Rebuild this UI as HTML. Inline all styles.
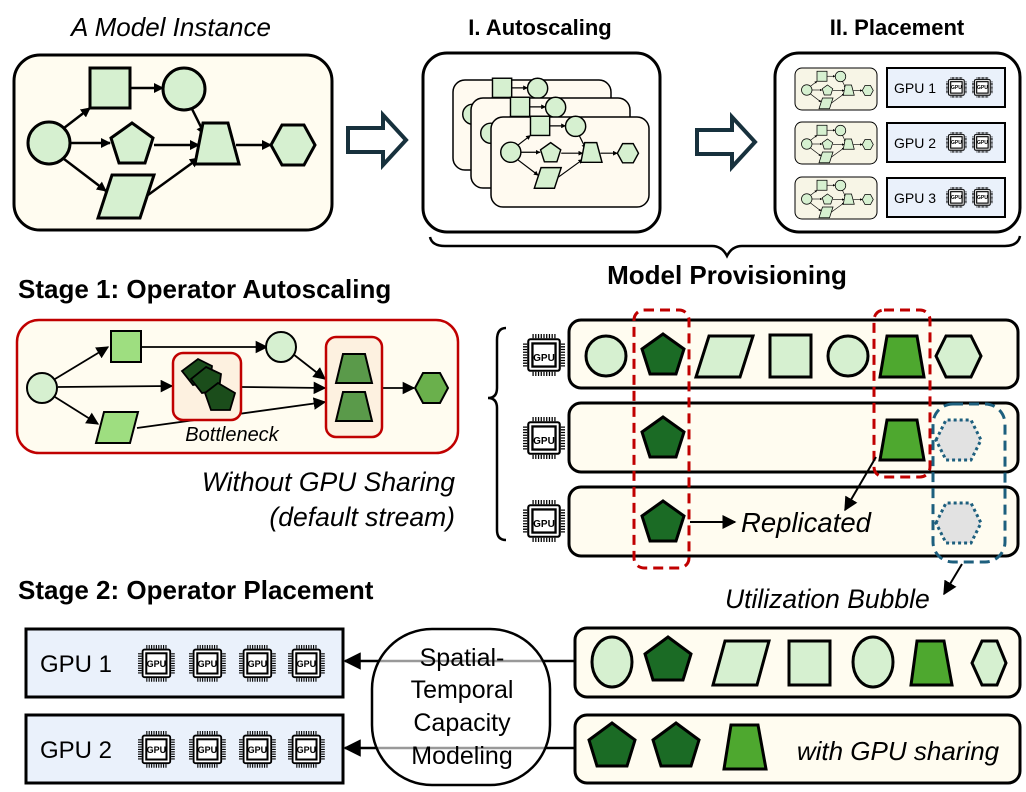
<!DOCTYPE html>
<html><head><meta charset="utf-8"><style>
html,body{margin:0;padding:0;background:#fff;}
svg{display:block;font-family:"Liberation Sans",sans-serif;}
.b{font-weight:bold;font-size:22px;}
.b2{font-weight:bold;font-size:26px;}
.i{font-style:italic;}
</style></head><body>
<svg width="1026" height="792" viewBox="0 0 1026 792" xmlns="http://www.w3.org/2000/svg">
<defs>
<marker id="ah" viewBox="0 0 10 10" refX="9" refY="5" markerWidth="4" markerHeight="4" orient="auto"><path d="M0,0 L10,5 L0,10 z" fill="#000"/></marker>
<marker id="ah2" viewBox="0 0 10 10" refX="9" refY="5" markerWidth="7" markerHeight="7" orient="auto"><path d="M0,0 L10,5 L0,10 z" fill="#000"/></marker>
<g id="graph" stroke="#000" stroke-width="3">
 <g fill="none" stroke-width="2.5" marker-end="url(#ah)">
  <line x1="50" y1="73" x2="76" y2="53"/>
  <line x1="116" y1="33" x2="149" y2="33"/>
  <line x1="56" y1="88" x2="96" y2="88"/>
  <line x1="50" y1="104" x2="92" y2="136"/>
  <line x1="140" y1="90" x2="185" y2="90"/>
  <line x1="178" y1="54" x2="191" y2="80"/>
  <line x1="134" y1="140" x2="185" y2="103"/>
  <line x1="222" y1="90" x2="257" y2="90"/>
 </g>
 <g fill="#d6f0d0">
  <circle cx="35" cy="88" r="21"/>
  <rect x="76" y="13" width="40" height="40"/>
  <circle cx="170" cy="34" r="21"/>
  <polygon points="118,68 139,83 131,108 105,108 97,83"/>
  <polygon points="98,120 140,120 126,163 84,163"/>
  <polygon points="189,68 214,68 225,109 181,109"/>
  <polygon points="257,90 268,70 290,70 301,90 290,110 268,110"/>
 </g>
</g>
<g id="chip">
 <g stroke="#000" stroke-width="4" stroke-dasharray="1.2 1.4">
  <line x1="9" y1="2" x2="31" y2="2"/><line x1="9" y1="38" x2="31" y2="38"/>
  <line x1="2" y1="9" x2="2" y2="31"/><line x1="38" y1="9" x2="38" y2="31"/>
 </g>
 <rect x="5" y="5" width="30" height="30" fill="#fff" stroke="#000" stroke-width="2" rx="2"/>
 <rect x="9" y="9" width="22" height="22" fill="#fff" stroke="#000" stroke-width="2.2"/>
</g>
<g id="arrowR"><path d="M0,13 L35,13 L35,0 L58,25 L35,50 L35,37 L0,37 z" fill="#fff" stroke="#17313d" stroke-width="4"/></g>
</defs>

<text x="171" y="36" text-anchor="middle" class="i" font-size="26">A Model Instance</text>
<text x="540" y="35" text-anchor="middle" class="b">I. Autoscaling</text>
<text x="897" y="35" text-anchor="middle" class="b">II. Placement</text>

<rect x="14" y="55" width="318" height="175" rx="26" fill="#fffcf0" stroke="#000" stroke-width="3"/>
<use href="#graph" transform="translate(14,55)"/>

<use href="#arrowR" transform="translate(348,115)"/>
<use href="#arrowR" transform="translate(697,117)"/>

<rect x="423" y="53" width="237" height="179" rx="24" fill="#fff" stroke="#000" stroke-width="3"/>
<rect x="453" y="80" width="158" height="90" rx="12" fill="#fffaf0" stroke="#000" stroke-width="1.5"/>
<use href="#graph" transform="translate(456,72) scale(0.48)"/>
<rect x="471" y="98" width="159" height="90" rx="12" fill="#fffaf0" stroke="#000" stroke-width="1.5"/>
<use href="#graph" transform="translate(474,91) scale(0.48)"/>
<rect x="491" y="117" width="158" height="90" rx="12" fill="#fffaf0" stroke="#000" stroke-width="1.5"/>
<use href="#graph" transform="translate(494,110) scale(0.48)"/>

<rect x="775" y="53" width="245" height="179" rx="24" fill="#fff" stroke="#000" stroke-width="3"/>
<g>
 <rect x="795" y="68" width="82" height="42" rx="7" fill="#f7f5e6" stroke="#000" stroke-width="1"/>
 <use href="#graph" transform="translate(798,68) scale(0.25)"/>
 <rect x="795" y="122" width="82" height="42" rx="7" fill="#f7f5e6" stroke="#000" stroke-width="1"/>
 <use href="#graph" transform="translate(798,122) scale(0.25)"/>
 <rect x="795" y="177" width="82" height="42" rx="7" fill="#f7f5e6" stroke="#000" stroke-width="1"/>
 <use href="#graph" transform="translate(798,177) scale(0.25)"/>
</g>
<g font-size="14">
 <rect x="887" y="68" width="118" height="39" fill="#eaf1fb" stroke="#000" stroke-width="2"/>
 <text x="894" y="93">GPU 1</text>
 <rect x="887" y="123" width="118" height="39" fill="#eaf1fb" stroke="#000" stroke-width="2"/>
 <text x="894" y="148">GPU 2</text>
 <rect x="887" y="178" width="118" height="39" fill="#eaf1fb" stroke="#000" stroke-width="2"/>
 <text x="894" y="203">GPU 3</text>
</g>
<g font-size="5" font-weight="bold" text-anchor="middle">
 <use href="#chip" transform="translate(946,77) scale(0.52)"/><text x="956.4" y="89">GPU</text>
 <use href="#chip" transform="translate(972,77) scale(0.52)"/><text x="982.4" y="89">GPU</text>
 <use href="#chip" transform="translate(946,132) scale(0.52)"/><text x="956.4" y="144">GPU</text>
 <use href="#chip" transform="translate(972,132) scale(0.52)"/><text x="982.4" y="144">GPU</text>
 <use href="#chip" transform="translate(946,187) scale(0.52)"/><text x="956.4" y="199">GPU</text>
 <use href="#chip" transform="translate(972,187) scale(0.52)"/><text x="982.4" y="199">GPU</text>
</g>

<path d="M430,237 Q432,246 445,246 L712,246 Q722,246 727,256 Q732,246 742,246 L1005,246 Q1018,246 1020,236" fill="none" stroke="#000" stroke-width="2.5"/>
<text x="727" y="284" text-anchor="middle" class="b2">Model Provisioning</text>

<text x="18" y="298" class="b2">Stage 1: Operator Autoscaling</text>
<rect x="17" y="320" width="441" height="133" rx="22" fill="#fffcf0" stroke="#c00000" stroke-width="2.5"/>
<g stroke="#000" stroke-width="1.8" fill="none" marker-end="url(#ah2)">
 <line x1="55" y1="379" x2="108" y2="347"/>
 <line x1="142" y1="347" x2="267" y2="347"/>
 <line x1="58" y1="387" x2="172" y2="386"/>
 <line x1="55" y1="397" x2="98" y2="424"/>
 <line x1="242" y1="387" x2="325" y2="388"/>
 <line x1="137" y1="428" x2="325" y2="402"/>
 <line x1="293" y1="354" x2="325" y2="379"/>
 <line x1="383" y1="388" x2="414" y2="388"/>
</g>
<circle cx="42" cy="388" r="15" fill="#d6f0d0" stroke="#000" stroke-width="2"/>
<rect x="111" y="331" width="30" height="31" fill="#9ede80" stroke="#000" stroke-width="2"/>
<circle cx="281" cy="347" r="15" fill="#d6f0d0" stroke="#000" stroke-width="2"/>
<polygon points="104,412 138,412 130,443 96,443" fill="#9ede80" stroke="#000" stroke-width="2"/>
<rect x="173" y="353" width="68" height="67" rx="10" fill="#fdf1e0" stroke="#c00000" stroke-width="2.5"/>
<g fill="#1b4d1b" stroke="#000" stroke-width="1.8">
 <polygon points="198,359 212,366 210,382 193,385 182,371"/>
 <polygon points="206,367 221,374 219,390 202,393 191,379"/>
 <polygon points="218,383 235,393 230,410 211,410 205,393"/>
</g>
<rect x="326" y="337" width="56" height="100" rx="10" fill="#fdf1e0" stroke="#c00000" stroke-width="2.5"/>
<polygon points="343,354 365,354 372,383 336,383" fill="#5a9a4a" stroke="#000" stroke-width="2"/>
<polygon points="343,392 365,392 372,421 336,421" fill="#5a9a4a" stroke="#000" stroke-width="2"/>
<polygon points="415,388 423,373 440,373 448,388 440,403 423,403" fill="#6ab04c" stroke="#000" stroke-width="2"/>
<text x="232" y="441" text-anchor="middle" class="i" font-size="20">Bottleneck</text>
<text x="455" y="491" text-anchor="end" class="i" font-size="26.5">Without GPU Sharing</text>
<text x="455" y="526" text-anchor="end" class="i" font-size="26.5">(default stream)</text>

<path d="M506,328 Q497,328 497,340 L497,388 Q497,398 488,398 Q497,398 497,408 L497,530 Q497,540 506,540" fill="none" stroke="#000" stroke-width="2.5"/>

<rect x="569" y="320" width="449" height="68" rx="12" fill="#fffcf0" stroke="#000" stroke-width="3"/>
<rect x="569" y="403" width="449" height="69" rx="12" fill="#fffcf0" stroke="#000" stroke-width="3"/>
<rect x="569" y="487" width="449" height="69" rx="12" fill="#fffcf0" stroke="#000" stroke-width="3"/>
<g font-size="10" font-weight="bold" text-anchor="middle">
 <use href="#chip" transform="translate(523,334) scale(1.05)"/><text x="544" y="361">GPU</text>
 <use href="#chip" transform="translate(523,417) scale(1.05)"/><text x="544" y="444">GPU</text>
 <use href="#chip" transform="translate(523,500) scale(1.05)"/><text x="544" y="527">GPU</text>
</g>
<g stroke="#000" stroke-width="3">
 <circle cx="606" cy="356" r="20" fill="#d6f0d0"/>
 <polygon points="663,334 684,349 676,374 650,374 642,349" fill="#1b6b25"/>
 <polygon points="709,336 753,336 740,377 696,377" fill="#d6f0d0"/>
 <rect x="770" y="335" width="41" height="42" fill="#d6f0d0"/>
 <circle cx="848" cy="356" r="20" fill="#d6f0d0"/>
 <polygon points="887,336 917,336 924,377 880,377" fill="#4ea82f"/>
 <polygon points="936,356 946,336 971,336 981,356 971,377 946,377" fill="#d6f0d0"/>
 <polygon points="663,417 684,432 676,457 650,457 642,432" fill="#1b6b25"/>
 <polygon points="887,420 917,420 924,460 880,460" fill="#4ea82f"/>
 <polygon points="663,501 684,516 676,541 650,541 642,516" fill="#1b6b25"/>
</g>
<g fill="#e2e2e2" stroke="#1d5f7e" stroke-width="3" stroke-dasharray="3 3">
 <polygon points="936,440 946,420 971,420 981,440 971,460 946,460"/>
 <polygon points="936,523 946,503 971,503 981,523 971,543 946,543"/>
</g>
<rect x="634" y="310" width="55" height="258" rx="10" fill="none" stroke="#c00000" stroke-width="3" stroke-dasharray="10 6"/>
<rect x="874" y="310" width="56" height="167" rx="10" fill="none" stroke="#c00000" stroke-width="3" stroke-dasharray="10 6"/>
<rect x="933" y="404" width="72" height="158" rx="20" fill="none" stroke="#1d5f7e" stroke-width="3" stroke-dasharray="10 6"/>
<line x1="690" y1="522" x2="735" y2="522" stroke="#000" stroke-width="2" marker-end="url(#ah2)"/>
<line x1="876" y1="457" x2="845" y2="510" stroke="#000" stroke-width="2" marker-end="url(#ah2)"/>
<line x1="962" y1="564" x2="944" y2="594" stroke="#000" stroke-width="2" marker-end="url(#ah2)"/>
<text x="741" y="532" class="i" font-size="27.5">Replicated</text>
<text x="725" y="608" class="i" font-size="26.5">Utilization Bubble</text>

<text x="18" y="599" class="b2">Stage 2: Operator Placement</text>
<rect x="26" y="629" width="317" height="68" fill="#eaf1fb" stroke="#000" stroke-width="3"/>
<rect x="26" y="715" width="317" height="68" fill="#eaf1fb" stroke="#000" stroke-width="3"/>
<text x="40" y="672" font-size="24">GPU 1</text>
<text x="40" y="758" font-size="24">GPU 2</text>
<g font-size="9" font-weight="bold" text-anchor="middle">
 <use href="#chip" transform="translate(138,645) scale(0.92)"/><text x="156.4" y="667">GPU</text>
 <use href="#chip" transform="translate(189,645) scale(0.92)"/><text x="207.4" y="667">GPU</text>
 <use href="#chip" transform="translate(239,645) scale(0.92)"/><text x="257.4" y="667">GPU</text>
 <use href="#chip" transform="translate(288,645) scale(0.92)"/><text x="306.4" y="667">GPU</text>
 <use href="#chip" transform="translate(138,731) scale(0.92)"/><text x="156.4" y="753">GPU</text>
 <use href="#chip" transform="translate(189,731) scale(0.92)"/><text x="207.4" y="753">GPU</text>
 <use href="#chip" transform="translate(239,731) scale(0.92)"/><text x="257.4" y="753">GPU</text>
 <use href="#chip" transform="translate(288,731) scale(0.92)"/><text x="306.4" y="753">GPU</text>
</g>
<line x1="575" y1="661" x2="345" y2="661" stroke="#000" stroke-width="2.5" marker-end="url(#ah2)"/>
<line x1="575" y1="748" x2="345" y2="748" stroke="#000" stroke-width="2.5" marker-end="url(#ah2)"/>
<rect x="372" y="629" width="178" height="156" rx="60" fill="#fff" fill-opacity="0.6" stroke="#000" stroke-width="2.5"/>
<g font-size="25" text-anchor="middle">
 <text x="462" y="666">Spatial-</text>
 <text x="462" y="698">Temporal</text>
 <text x="462" y="731">Capacity</text>
 <text x="462" y="764">Modeling</text>
</g>
<rect x="575" y="628" width="445" height="69" rx="12" fill="#fffcf0" stroke="#000" stroke-width="3"/>
<rect x="575" y="715" width="445" height="68" rx="12" fill="#fffcf0" stroke="#000" stroke-width="3"/>
<g stroke="#000" stroke-width="3">
 <ellipse cx="612" cy="662" rx="20" ry="25" fill="#d6f0d0"/>
 <polygon points="668,637 691,654 683,680 653,680 645,654" fill="#1b6b25"/>
 <polygon points="725,641 769,641 757,685 713,685" fill="#d6f0d0"/>
 <rect x="789" y="641" width="41" height="44" fill="#d6f0d0"/>
 <ellipse cx="873" cy="662" rx="20" ry="25" fill="#d6f0d0"/>
 <polygon points="917,641 944,641 952,685 911,685" fill="#4ea82f"/>
 <polygon points="972,663 982,641 997,641 1006,663 997,685 982,685" fill="#d6f0d0"/>
 <polygon points="612,723 635,740 627,766 597,766 589,740" fill="#1b6b25"/>
 <polygon points="676,723 699,740 691,766 661,766 653,740" fill="#1b6b25"/>
 <polygon points="731,725 758,725 766,769 724,769" fill="#4ea82f"/>
</g>
<text x="898" y="760" text-anchor="middle" class="i" font-size="26">with GPU sharing</text>
</svg>
</body></html>
